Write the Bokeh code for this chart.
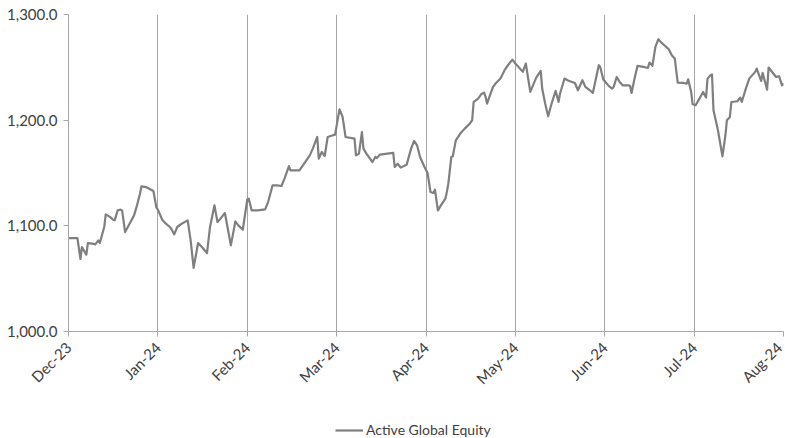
from math import pi
from bokeh.plotting import figure
from bokeh.layouts import column
from bokeh.models import (FixedTicker, NumeralTickFormatter, Range1d, Legend,
                          LegendItem, ColumnDataSource)
from bokeh.embed import file_html
from bokeh.resources import INLINE

# ---------------- data ----------------
month_labels = ["Dec-23", "Jan-24", "Feb-24", "Mar-24", "Apr-24",
                "May-24", "Jun-24", "Jul-24", "Aug-24"]
periods_per_month = 60  # time position unit: 60 steps per month

period = [
    0, 6, 8, 9, 12, 13, 16, 18, 20, 21, 24, 25, 28, 30, 31, 33, 35, 36, 38, 41,
    44, 46, 48, 49, 52, 57, 59, 60,
    63, 65, 68, 69, 71, 73, 76, 80, 82, 84, 87, 90, 93, 95, 98, 100, 102, 105,
    109, 112, 114, 117, 120, 121,
    123, 127, 132, 134, 137, 140, 143, 145, 148, 149, 155, 157, 162, 164, 167,
    168, 170, 172, 174, 176, 179,
    181, 182, 184, 186, 192, 193, 195, 197, 198, 200, 204, 206, 207, 209, 218,
    219, 221, 223, 227, 230, 232, 234, 236, 239, 241, 243,
    245, 246, 248, 250, 253, 254, 255, 257, 258, 260, 263, 266, 269, 271, 272,
    275, 277, 279, 280, 281, 283, 285, 287, 290, 293, 295, 298,
    300, 303, 305, 307, 310, 314, 317, 318, 320, 322, 324, 327, 329, 330, 333,
    335, 338, 340, 342, 345, 347, 350, 352, 356, 357, 359, 361,
    363, 365, 366, 368, 370, 372, 376, 377, 378, 380, 382, 386, 389, 390, 392,
    394, 396, 398, 403, 405, 407, 409, 413, 415, 416, 418, 419, 421,
    423, 426, 428, 429, 431, 432, 433, 436, 439, 441, 442, 444, 445, 449, 451,
    452, 454, 457, 461, 462, 465, 466, 469, 470, 475, 477, 479, 481,
]

active_global_equity = [
    1088.4, 1088.4, 1068.6, 1079.9, 1072.7, 1083.7, 1083.1, 1082.4, 1086.2, 1083.7,
    1098.9, 1110.9, 1108.3, 1105.8, 1105.2, 1114.6, 1115.3, 1114.6, 1094.1, 1102.0,
    1109.9, 1119.4, 1130.4, 1137.4, 1136.7, 1133.0, 1117.2, 1115.3,
    1105.5, 1102.6, 1098.9, 1097.3, 1091.9, 1098.9, 1102.0, 1105.2, 1086.2, 1060.3,
    1083.7, 1079.3, 1074.2, 1098.9, 1119.4, 1103.6, 1106.8, 1112.1, 1081.5, 1104.2,
    1100.4, 1096.3, 1124.7, 1125.7,
    1114.6, 1114.6, 1115.6, 1122.5, 1138.3, 1138.3, 1137.7, 1144.6, 1156.6, 1152.5,
    1152.5, 1156.6, 1166.7, 1173.1, 1184.1, 1163.6, 1169.9, 1166.1, 1184.1, 1185.0,
    1186.3,
    1203.1, 1210.3, 1203.1, 1184.1, 1182.5, 1166.7, 1168.3, 1188.8, 1173.1, 1168.3,
    1160.4, 1165.2, 1164.2, 1167.4, 1169.0, 1155.7, 1158.8, 1155.1, 1157.9, 1173.1,
    1180.3, 1176.2, 1165.2, 1155.7, 1150.3, 1132.0,
    1131.1, 1134.2, 1114.6, 1119.4, 1125.7, 1132.0, 1139.9, 1165.2, 1165.8, 1180.9,
    1187.3, 1192.0, 1196.1, 1199.9, 1217.3, 1220.4, 1224.5, 1226.1, 1222.0, 1215.7,
    1223.6, 1231.5, 1235.2, 1239.4, 1247.9, 1252.0, 1257.3,
    1253.6, 1248.8, 1245.7, 1253.6, 1226.7, 1240.3, 1246.6, 1229.9, 1215.7, 1203.7,
    1214.1, 1227.7, 1217.3, 1225.2, 1239.4, 1237.8, 1236.2, 1235.2, 1228.3, 1237.8,
    1231.5, 1228.3, 1225.8, 1252.0, 1250.4, 1238.4, 1235.2,
    1232.0, 1229.9, 1231.5, 1240.9, 1236.2, 1233.0, 1233.0, 1232.4, 1225.8, 1239.4,
    1251.4, 1250.4, 1249.4, 1254.5, 1251.4, 1269.3, 1276.6, 1273.4, 1267.1, 1261.4,
    1258.3, 1235.6, 1235.2, 1234.6, 1238.7, 1226.7, 1215.0, 1214.1,
    1219.0, 1226.7, 1221.4, 1239.3, 1242.5, 1243.4, 1209.3, 1190.4, 1165.8, 1185.7,
    1199.9, 1203.0, 1217.2, 1217.9, 1221.4, 1217.2, 1226.7, 1239.3, 1245.7, 1248.8,
    1237.1, 1244.7, 1228.9, 1249.8, 1240.9, 1241.6, 1233.0, 1234.6,
]

y_ticks = [1000, 1100, 1200, 1300]
series_name = "Active Global Equity"

# ---------------- styling ----------------
FONT = "Lato"
TEXT = "#404040"
LINE = "#7f7f7f"
GRID = "#a6a6a6"

month_ticks = [i * periods_per_month for i in range(len(month_labels))]

p = figure(width=785, height=400, output_backend="svg", toolbar_location=None,
           x_range=Range1d(month_ticks[0], month_ticks[-1]),
           y_range=Range1d(y_ticks[0], y_ticks[-1]),
           min_border_left=68, min_border_right=2, min_border_top=14,
           min_border_bottom=69)
p.outline_line_color = None
p.background_fill_color = "white"
p.border_fill_color = "white"

src = ColumnDataSource(dict(period=period, value=active_global_equity))
p.line("period", "value", source=src, line_color=LINE, line_width=2.2,
       line_join="round")

# x axis
p.xaxis.ticker = FixedTicker(ticks=month_ticks)
p.xaxis.major_label_overrides = {t: lab for t, lab in zip(month_ticks, month_labels)}
p.xaxis.major_label_orientation = pi / 4
p.xaxis.minor_tick_line_color = None
p.xaxis.major_tick_out = 5
p.xaxis.major_tick_in = 0
p.xaxis.axis_line_color = GRID
p.xaxis.major_tick_line_color = GRID
p.xaxis.major_label_standoff = 8

# y axis
p.yaxis.ticker = FixedTicker(ticks=y_ticks)
p.yaxis.formatter = NumeralTickFormatter(format="0,0.0")
p.yaxis.minor_tick_line_color = None
p.yaxis.major_tick_out = 5
p.yaxis.major_tick_in = 0
p.yaxis.axis_line_color = GRID
p.yaxis.major_tick_line_color = GRID
p.yaxis.major_label_standoff = 6

for ax in (p.xaxis[0], p.yaxis[0]):
    ax.major_label_text_font = FONT
    ax.major_label_text_font_size = "15px"
    ax.major_label_text_color = TEXT

# grid
p.xgrid.ticker = FixedTicker(ticks=month_ticks)
p.xgrid.grid_line_color = GRID
p.xgrid.grid_line_width = 1
p.ygrid.grid_line_color = None

# ---------------- legend strip below the chart ----------------
# (frames in a column are aligned, so this strip's frame starts at x = 68)
lf = figure(width=785, height=38, output_backend="svg", toolbar_location=None,
            x_range=Range1d(0, 1), y_range=Range1d(0, 1),
            x_axis_location=None, y_axis_location=None,
            min_border_left=0, min_border_right=0, min_border_top=0,
            min_border_bottom=0)
lf.grid.visible = False
lf.outline_line_color = None
lf.background_fill_color = "white"
lf.border_fill_color = "white"
# same series; the strip's ranges keep it out of view, only its legend shows
sample = lf.line("period", "value", source=src, line_color=LINE, line_width=2.2)

legend = Legend(items=[LegendItem(label=series_name, renderers=[sample])],
                location=(267, 0), orientation="horizontal",
                glyph_width=28, glyph_height=12, label_height=12,
                label_standoff=3, padding=0, margin=0, spacing=0,
                border_line_color=None, background_fill_alpha=0,
                label_text_font=FONT, label_text_font_size="14px",
                label_text_color=TEXT)
lf.add_layout(legend, "center")

layout = column(p, lf, spacing=0)
open("out.html", "w").write(file_html(layout, INLINE))
